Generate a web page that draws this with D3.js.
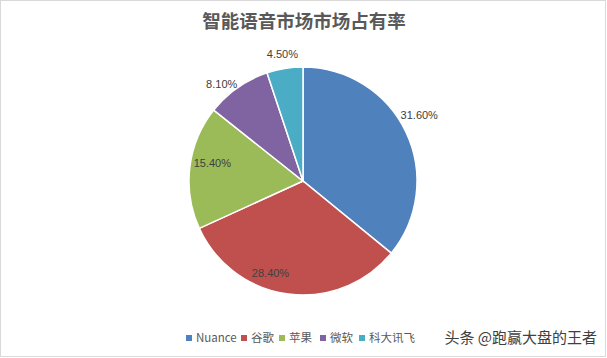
<!DOCTYPE html>
<html lang="zh">
<head>
<meta charset="utf-8">
<style>
  body { margin: 0; background: #fff; }
  svg { display: block; font-family: "Noto Sans CJK SC", "Liberation Sans", sans-serif; }
</style>
</head>
<body>
<svg width="607" height="358"></svg>
<script src="https://d3js.org/d3.v7.min.js"></script>
<script>
// data
var vendors = ["Nuance", "谷歌", "苹果", "微软", "科大讯飞"];
var shares = [31.6, 28.4, 15.4, 8.1, 4.5];
var colors = ["#4F81BD", "#C0504D", "#9BBB59", "#8064A2", "#4BACC6"];

// label placement (Excel "best fit" look): radius factor and angle nudge in degrees
var labelR = [1.17, 0.86, 0.81, 1.11, 1.13];
var labelNudge = [-4, 12, 4, -5, 0];

var svg = d3.select("svg"),
    width = +svg.attr("width"),
    height = +svg.attr("height");

svg.append("rect")
    .attr("x", 0.5).attr("y", 0.5)
    .attr("width", width - 2).attr("height", height - 2)
    .attr("fill", "#fff").attr("stroke", "#d9d9d9");

svg.append("text")
    .attr("x", 304).attr("y", 28)
    .attr("text-anchor", "middle")
    .attr("font-size", 18.5).attr("font-weight", "bold")
    .attr("fill", "#595959")
    .text("智能语音市场市场占有率");

var cx = 303, cy = 181, r = 114;
var data = vendors.map(function (v, i) { return {name: v, value: shares[i], i: i}; });

var pie = d3.pie().sort(null).value(function (d) { return d.value; });
var arc = d3.arc().innerRadius(0).outerRadius(r);
var arcs = pie(data);

var g = svg.append("g").attr("transform", "translate(" + cx + "," + cy + ")");

g.selectAll("path")
    .data(arcs)
    .enter().append("path")
    .attr("d", arc)
    .attr("fill", function (d) { return colors[d.data.i]; })
    .attr("stroke", "#fff")
    .attr("stroke-width", 1.5);

g.selectAll(".lbl")
    .data(arcs)
    .enter().append("text")
    .attr("class", "lbl")
    .attr("transform", function (d) {
        var a = (d.startAngle + d.endAngle) / 2 + labelNudge[d.data.i] * Math.PI / 180;
        var rr = r * labelR[d.data.i];
        return "translate(" + (Math.sin(a) * rr) + "," + (-Math.cos(a) * rr) + ")";
    })
    .attr("text-anchor", "middle")
    .attr("dy", "0.35em")
    .attr("font-family", "Liberation Sans, Arial, sans-serif")
    .attr("font-size", 11)
    .attr("fill", "#404040")
    .text(function (d) { return d.data.value.toFixed(2) + "%"; });

// legend
var legendX = [186, 241, 279, 320, 359];
var legend = svg.append("g").attr("transform", "translate(0,338)");
var item = legend.selectAll("g")
    .data(vendors)
    .enter().append("g")
    .attr("transform", function (d, i) { return "translate(" + legendX[i] + ",0)"; });

item.append("rect")
    .attr("x", 0).attr("y", -3)
    .attr("width", 6).attr("height", 6)
    .attr("fill", function (d, i) { return colors[i]; });

item.append("text")
    .attr("x", 10).attr("dy", "0.35em")
    .attr("font-size", 11.5)
    .attr("fill", "#595959")
    .text(function (d) { return d; });

// watermark
svg.append("text")
    .attr("x", 597).attr("y", 338)
    .attr("dy", "0.35em")
    .attr("text-anchor", "end")
    .attr("font-size", 15)
    .attr("fill", "#404040")
    .text("头条 @跑赢大盘的王者");
</script>
</body>
</html>
